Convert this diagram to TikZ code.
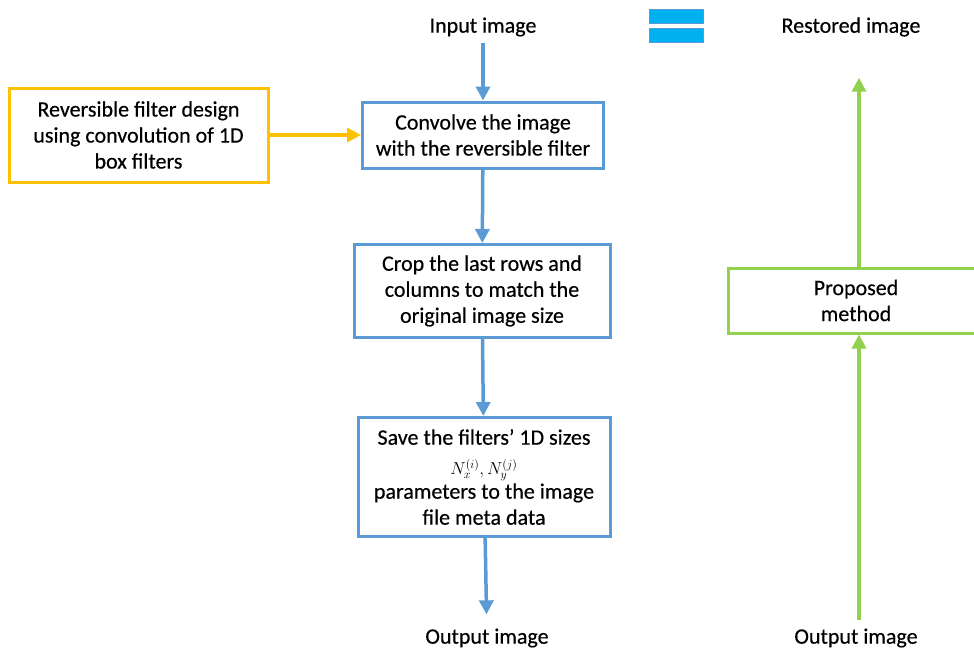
\documentclass[tikz,border=0pt]{standalone}
\usepackage{fontspec}
\setmainfont{Carlito}[FakeBold=0.4]
\usetikzlibrary{arrows.meta}
\definecolor{cblue}{HTML}{5B9BD5}
\definecolor{corange}{HTML}{FFC000}
\definecolor{cgreen}{HTML}{92D050}
\definecolor{ccyan}{HTML}{00B0F0}
\begin{document}
\begin{tikzpicture}[x=1pt,y=-1pt,
  font=\fontsize{22}{26}\selectfont,
  box/.style={draw, line width=3pt, fill=white, align=center, inner sep=0pt},
  lbl/.style={inner sep=6pt},
  arr/.style={line width=3.5pt, -{Triangle[length=14pt,width=14pt]}}]
\useasboundingbox (0,0) rectangle (974,653);
% labels
\node[lbl] (in)   at (483,27)  {Input image};
\node[lbl] (rest) at (851,27)  {Restored image};
\node[lbl] (out1) at (487,638) {Output image};
\node[lbl] (out2) at (856,638) {Output image};
% boxes
\node[box, draw=cblue, minimum width=241pt, minimum height=66pt] (b1) at (483,135)
  {Convolve the image\\with the reversible filter};
\node[box, draw=cblue, minimum width=256pt, minimum height=93pt] (b2) at (482,291)
  {Crop the last rows and\\columns to match the\\original image size};
\node[box, draw=cblue, minimum width=252pt, minimum height=119pt] (b3) at (484,477)
  {Save the filters’ 1D sizes\\[4pt]{\fontsize{18}{20}\selectfont$N_x^{(i)},N_y^{(j)}$}\\[-2pt]parameters to the image\\file meta data};
\node[box, draw=corange, minimum width=259pt, minimum height=94pt] (rf) at (138.5,135)
  {Reversible filter design\\using convolution of 1D\\box filters};
\node[box, draw=cgreen, minimum width=262pt, minimum height=65pt, text width=262pt] (pm) at (859,300.5)
  {\hspace*{-6pt}Proposed\\\hspace*{-6pt}method};
% equals sign
\draw[fill=ccyan, draw=cblue, line width=0.8pt] (649,9) rectangle (703,23);
\draw[fill=ccyan, draw=cblue, line width=0.8pt] (649,28) rectangle (703,42);
% connectors
\draw[arr, cblue] (in) -- (b1);
\draw[arr, cblue] (b1) -- (b2);
\draw[arr, cblue] (b2) -- (b3);
\draw[arr, cblue, shorten >=8pt] (b3) -- (out1);
\draw[arr, corange] (rf) -- (b1);
\draw[arr, cgreen, shorten <=2pt] (out2.north -| pm.south) -- (pm.south);
\draw[arr, cgreen, shorten >=35pt] (pm.north) -- (rest.south -| pm.north);
\end{tikzpicture}
\end{document}
